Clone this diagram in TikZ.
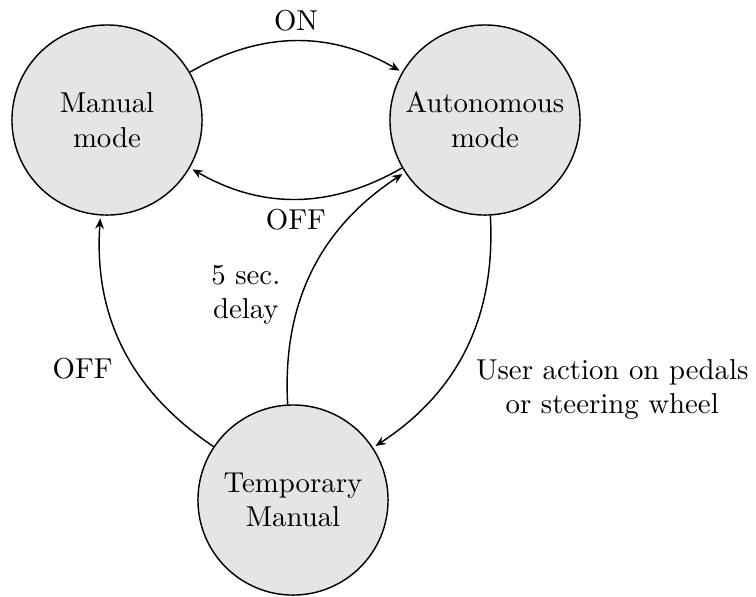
\documentclass[tikz,border=0pt]{standalone}
\usetikzlibrary{arrows.meta}
\begin{document}
\begin{tikzpicture}[x=0.3472pt,y=-0.3472pt,
  state/.style={circle,draw,fill=gray!20,line width=0.5pt,minimum size=66pt,
    inner sep=0pt,align=center},
  trans/.style={-{Stealth[length=3.6pt,width=3pt,inset=1.2pt]},line width=0.5pt,
    shorten >=1pt,bend left=30},
  lbl/.style={auto,align=center}]
\useasboundingbox (0,0) rectangle (756,596);

% states
\node[state] (man) at (107,120) {Manual\\mode};
\node[state] (aut) at (485,120) {Autonomous\\mode};
\node[state] (tmp) at (293,500) {Temporary\\Manual};

% transitions
\draw[trans] (man) to node[lbl] {ON} (aut);
\draw[trans] (aut) to node[lbl] {OFF} (man);
\draw[trans] (tmp) to node[align=center,pos=0.36,anchor=east,xshift=-2.8pt,yshift=3.5pt] {5 sec.\\delay} (aut);
\draw[trans] (aut) to node[lbl] {User action on pedals\\or steering wheel} (tmp);
\draw[trans] (tmp) to node[lbl] {OFF} (man);
\end{tikzpicture}
\end{document}
